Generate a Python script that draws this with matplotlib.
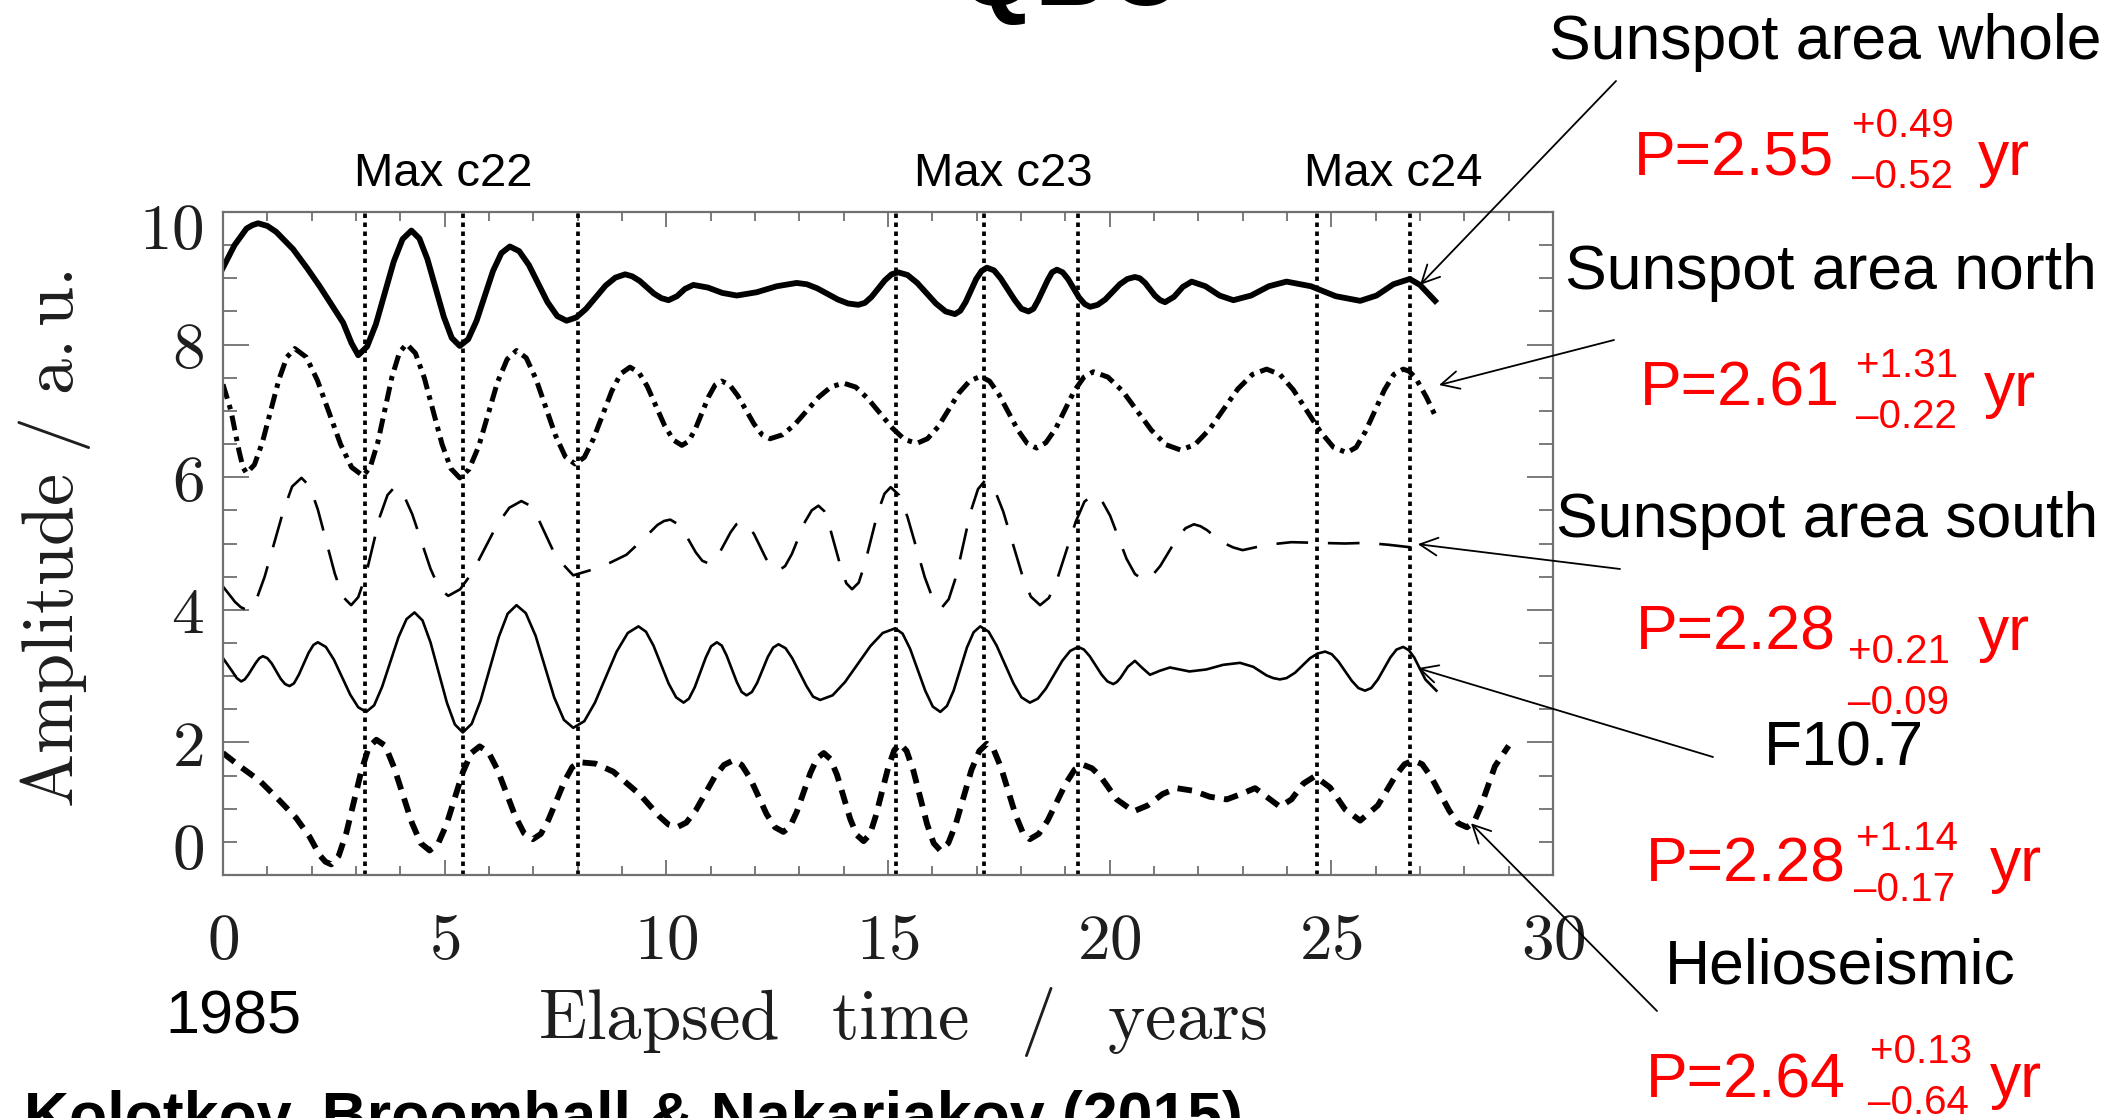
import matplotlib
matplotlib.use("Agg")
import matplotlib.pyplot as plt
import matplotlib.transforms as mtransforms
from matplotlib.ticker import MultipleLocator

plt.rcParams['mathtext.fontset'] = 'cm'
plt.rcParams['font.family'] = ['Liberation Sans', 'DejaVu Sans']

W, H = 2117, 1118

# -----------------------------
# Curves as (elapsed years since 1985, amplitude / a.u.)
# -----------------------------

whole_pts = [
    (0, 9.16), (0.26, 9.5), (0.53, 9.75), (0.66, 9.8), (0.79, 9.83), (1.0, 9.79), (1.2, 9.7),
    (1.58, 9.44), (1.9, 9.15), (2.18, 8.88), (2.45, 8.6), (2.71, 8.33), (2.9, 8.02),
    (3.05, 7.84), (3.25, 7.97), (3.45, 8.31), (3.85, 9.25), (4.05, 9.59), (4.25, 9.72),
    (4.43, 9.6), (4.61, 9.29), (4.98, 8.42), (5.16, 8.1), (5.34, 7.98), (5.53, 8.08),
    (5.72, 8.36), (6.09, 9.11), (6.28, 9.38), (6.47, 9.48), (6.68, 9.41), (6.9, 9.2),
    (7.32, 8.64), (7.54, 8.43), (7.75, 8.36), (7.97, 8.41), (8.19, 8.54), (8.63, 8.89),
    (8.85, 9.01), (9.07, 9.06), (9.23, 9.03), (9.4, 8.96), (9.72, 8.77), (9.89, 8.70),
    (10.05, 8.67), (10.24, 8.73), (10.42, 8.84), (10.61, 8.90), (10.94, 8.86), (11.26, 8.78),
    (11.59, 8.74), (12.04, 8.79), (12.49, 8.88), (12.94, 8.93), (13.17, 8.91), (13.4, 8.85),
    (13.87, 8.68), (14.1, 8.62), (14.33, 8.60), (14.48, 8.63), (14.63, 8.72), (14.93, 8.97),
    (15.08, 9.06), (15.23, 9.09), (15.44, 9.05), (15.66, 8.93), (16.08, 8.62), (16.3, 8.5),
    (16.51, 8.46), (16.63, 8.51), (16.75, 8.64), (16.99, 8.99), (17.11, 9.11), (17.23, 9.16),
    (17.39, 9.12), (17.54, 9.0), (17.86, 8.67), (18.01, 8.54), (18.17, 8.50), (18.28, 8.54),
    (18.38, 8.66), (18.6, 8.97), (18.7, 9.09), (18.81, 9.13), (18.94, 9.09), (19.06, 8.99),
    (19.31, 8.71), (19.44, 8.61), (19.56, 8.57), (19.73, 8.6), (19.9, 8.68), (20.23, 8.91),
    (20.4, 8.99), (20.57, 9.02), (20.68, 9.0), (20.8, 8.93), (21.02, 8.74), (21.14, 8.67),
    (21.25, 8.64), (21.45, 8.72), (21.65, 8.87), (21.85, 8.95), (22.16, 8.88), (22.48, 8.74),
    (22.79, 8.67), (23.19, 8.74), (23.59, 8.88), (23.99, 8.95), (24.54, 8.88), (25.1, 8.73),
    (25.65, 8.66), (26.02, 8.74), (26.4, 8.91), (26.77, 8.99), (27.0, 8.9), (27.17, 8.78),
    (27.34, 8.66),
]

north_pts = [
    (0, 7.4), (0.18, 7.0), (0.36, 6.4), (0.45, 6.15), (0.53, 6.06), (0.71, 6.19), (0.89, 6.53),
    (1.26, 7.47), (1.44, 7.81), (1.62, 7.94), (1.88, 7.81), (2.13, 7.46), (2.65, 6.5),
    (2.9, 6.15), (3.16, 6.02), (3.32, 6.15), (3.49, 6.52), (3.81, 7.51), (3.98, 7.88),
    (4.14, 8.01), (4.34, 7.87), (4.54, 7.5), (4.94, 6.5), (5.14, 6.13), (5.34, 5.99),
    (5.55, 6.12), (5.77, 6.47), (6.19, 7.43), (6.41, 7.78), (6.62, 7.91), (6.84, 7.8),
    (7.06, 7.48), (7.5, 6.63), (7.72, 6.31), (7.94, 6.20), (8.15, 6.3), (8.35, 6.57),
    (8.77, 7.3), (8.97, 7.56), (9.18, 7.66), (9.38, 7.58), (9.57, 7.37), (9.96, 6.78),
    (10.16, 6.56), (10.35, 6.48), (10.5, 6.54), (10.65, 6.72), (10.95, 7.21), (11.1, 7.39),
    (11.25, 7.45), (11.43, 7.39), (11.61, 7.23), (11.98, 6.8), (12.16, 6.64), (12.34, 6.58),
    (12.62, 6.64), (12.89, 6.79), (13.44, 7.21), (13.71, 7.36), (13.99, 7.42), (14.27, 7.36),
    (14.54, 7.19), (15.1, 6.74), (15.37, 6.57), (15.65, 6.51), (15.89, 6.58), (16.13, 6.76),
    (16.6, 7.27), (16.84, 7.45), (17.08, 7.52), (17.29, 7.45), (17.5, 7.25), (17.93, 6.71),
    (18.14, 6.51), (18.35, 6.44), (18.56, 6.52), (18.78, 6.73), (19.2, 7.3), (19.42, 7.51),
    (19.63, 7.59), (19.96, 7.51), (20.29, 7.3), (20.94, 6.71), (21.27, 6.49), (21.6, 6.41),
    (21.92, 6.49), (22.25, 6.72), (22.89, 7.33), (23.22, 7.55), (23.54, 7.63), (23.84, 7.55),
    (24.14, 7.32), (24.75, 6.69), (25.05, 6.45), (25.35, 6.37), (25.56, 6.45), (25.77, 6.69),
    (26.2, 7.32), (26.41, 7.55), (26.62, 7.63), (26.75, 7.6), (26.9, 7.5), (27.15, 7.2),
    (27.37, 6.89),
]

south_pts = [
    (0, 4.35), (0.27, 4.12), (0.4, 4.04), (0.53, 4.0), (0.74, 4.13), (0.94, 4.5), (1.36, 5.49),
    (1.56, 5.86), (1.77, 5.99), (1.96, 5.86), (2.14, 5.51), (2.52, 4.55), (2.7, 4.2),
    (2.89, 4.07), (3.05, 4.19), (3.22, 4.52), (3.54, 5.41), (3.71, 5.73), (3.87, 5.85),
    (4.07, 5.74), (4.27, 5.44), (4.68, 4.62), (4.88, 4.32), (5.08, 4.21), (5.35, 4.31),
    (5.63, 4.57), (6.18, 5.28), (6.46, 5.54), (6.73, 5.64), (6.93, 5.57), (7.12, 5.36),
    (7.51, 4.8), (7.9, 4.52), (8.3, 4.6), (8.7, 4.7), (9.1, 4.83), (9.5, 5.08), (9.8, 5.28),
    (9.95, 5.34), (10.09, 5.36), (10.24, 5.3), (10.38, 5.2), (10.66, 4.87), (10.81, 4.74),
    (10.95, 4.70), (11.08, 4.74), (11.2, 4.86), (11.45, 5.17), (11.58, 5.29), (11.7, 5.32),
    (11.84, 5.28), (11.98, 5.14), (12.25, 4.77), (12.39, 4.64), (12.53, 4.59), (12.68, 4.66),
    (12.83, 4.84), (13.13, 5.33), (13.28, 5.5), (13.43, 5.57), (13.56, 5.49), (13.68, 5.26),
    (13.94, 4.63), (14.06, 4.4), (14.19, 4.31), (14.34, 4.41), (14.48, 4.7), (14.77, 5.47),
    (14.92, 5.75), (15.06, 5.85), (15.25, 5.73), (15.44, 5.4), (15.83, 4.49), (16.02, 4.15),
    (16.21, 4.03), (16.37, 4.16), (16.54, 4.51), (16.86, 5.47), (17.03, 5.82), (17.19, 5.95),
    (17.4, 5.82), (17.6, 5.48), (18.02, 4.54), (18.22, 4.2), (18.43, 4.07), (18.63, 4.18),
    (18.83, 4.49), (19.23, 5.32), (19.43, 5.63), (19.63, 5.74), (19.82, 5.65), (20.01, 5.42),
    (20.38, 4.77), (20.57, 4.54), (20.76, 4.45), (20.95, 4.51), (21.14, 4.66), (21.52, 5.08),
    (21.71, 5.23), (21.9, 5.29), (22.05, 5.26), (22.2, 5.2), (22.5, 5.03), (22.79, 4.94),
    (23.0, 4.9), (23.54, 4.98), (24.1, 5.02), (24.67, 5.01), (25.3, 5.0), (25.8, 5.01),
    (26.3, 4.98), (26.82, 4.94),
]

f107_pts = [
    (0, 3.27), (0.2, 3.08), (0.31, 2.97), (0.41, 2.92), (0.49, 2.95), (0.57, 3.02), (0.74, 3.2),
    (0.82, 3.27), (0.9, 3.30), (1.0, 3.27), (1.1, 3.19), (1.3, 2.96), (1.4, 2.88), (1.5, 2.85),
    (1.6, 2.89), (1.71, 3.02), (1.93, 3.35), (2.04, 3.47), (2.14, 3.51), (2.32, 3.44),
    (2.5, 3.25), (2.87, 2.72), (3.05, 2.53), (3.23, 2.46), (3.41, 2.56), (3.59, 2.84),
    (3.96, 3.59), (4.14, 3.86), (4.32, 3.96), (4.5, 3.84), (4.68, 3.51), (5.05, 2.6),
    (5.23, 2.27), (5.41, 2.15), (5.61, 2.28), (5.81, 2.63), (6.22, 3.59), (6.42, 3.94),
    (6.62, 4.07), (6.83, 3.95), (7.05, 3.61), (7.47, 2.68), (7.69, 2.34), (7.9, 2.22),
    (8.15, 2.32), (8.39, 2.6), (8.88, 3.37), (9.13, 3.65), (9.37, 3.75), (9.54, 3.67),
    (9.71, 3.46), (10.05, 2.89), (10.22, 2.68), (10.39, 2.60), (10.51, 2.66), (10.64, 2.83),
    (10.89, 3.28), (11.01, 3.45), (11.14, 3.51), (11.25, 3.46), (11.36, 3.31), (11.59, 2.91),
    (11.7, 2.76), (11.81, 2.71), (11.93, 2.76), (12.05, 2.9), (12.29, 3.29), (12.41, 3.43),
    (12.53, 3.48), (12.69, 3.42), (12.84, 3.27), (13.16, 2.85), (13.31, 2.69), (13.47, 2.64),
    (13.75, 2.71), (14.03, 2.91), (14.6, 3.45), (14.88, 3.65), (15.16, 3.72), (15.33, 3.64),
    (15.5, 3.41), (15.84, 2.78), (16.01, 2.54), (16.18, 2.46), (16.33, 2.55), (16.48, 2.78),
    (16.78, 3.43), (16.93, 3.66), (17.08, 3.75), (17.27, 3.67), (17.45, 3.46), (17.83, 2.89),
    (18.01, 2.68), (18.2, 2.60), (18.38, 2.66), (18.56, 2.81), (18.93, 3.23), (19.11, 3.38),
    (19.29, 3.44), (19.42, 3.4), (19.55, 3.3), (19.82, 3.02), (19.95, 2.92), (20.08, 2.88),
    (20.16, 2.91), (20.24, 2.97), (20.41, 3.14), (20.57, 3.23), (20.74, 3.12), (20.91, 3.02),
    (21.13, 3.08), (21.36, 3.13), (21.58, 3.1), (21.8, 3.07), (22.18, 3.1), (22.56, 3.17),
    (22.94, 3.20), (23.24, 3.14), (23.54, 3.01), (23.69, 2.97), (23.84, 2.95), (23.99, 2.97),
    (24.18, 3.05), (24.52, 3.27), (24.69, 3.34), (24.86, 3.37), (25.01, 3.33), (25.16, 3.22),
    (25.46, 2.93), (25.61, 2.82), (25.76, 2.78), (25.9, 2.82), (26.05, 2.95), (26.33, 3.28),
    (26.47, 3.4), (26.62, 3.44), (26.75, 3.39), (26.87, 3.28), (27.12, 2.95), (27.37, 2.78),
]

helio_pts = [
    (0, 1.84), (0.4, 1.63), (0.83, 1.42), (1.25, 1.14), (1.65, 0.86), (1.95, 0.58),
    (2.18, 0.30), (2.31, 0.2), (2.44, 0.16), (2.61, 0.29), (2.78, 0.63), (3.12, 1.57),
    (3.29, 1.93), (3.46, 2.04), (3.66, 1.95), (3.86, 1.62), (4.26, 0.79), (4.46, 0.48),
    (4.66, 0.37), (4.85, 0.47), (5.04, 0.76), (5.41, 1.55), (5.6, 1.84), (5.79, 1.94),
    (5.99, 1.85), (6.19, 1.59), (6.59, 0.89), (6.79, 0.63), (6.99, 0.54), (7.17, 0.62),
    (7.34, 0.83), (7.7, 1.41), (7.88, 1.63), (8.05, 1.70), (8.4, 1.68), (8.8, 1.56),
    (9.41, 1.21), (9.85, 0.88), (10.05, 0.76), (10.24, 0.72), (10.45, 0.79), (10.66, 0.97),
    (11.09, 1.48), (11.3, 1.66), (11.51, 1.73), (11.7, 1.66), (11.89, 1.46), (12.26, 0.92),
    (12.45, 0.72), (12.64, 0.65), (12.79, 0.73), (12.94, 0.95), (13.25, 1.54), (13.4, 1.76),
    (13.55, 1.84), (13.7, 1.75), (13.85, 1.51), (14.15, 0.84), (14.3, 0.6), (14.45, 0.51),
    (14.59, 0.61), (14.72, 0.88), (15.0, 1.61), (15.14, 1.88), (15.27, 1.98), (15.42, 1.87),
    (15.57, 1.58), (15.88, 0.77), (16.03, 0.48), (16.18, 0.37), (16.36, 0.48), (16.53, 0.77),
    (16.88, 1.58), (17.06, 1.87), (17.23, 1.98), (17.39, 1.88), (17.55, 1.62), (17.88, 0.9),
    (18.04, 0.64), (18.2, 0.54), (18.4, 0.62), (18.6, 0.82), (19.01, 1.38), (19.21, 1.59),
    (19.41, 1.66), (19.6, 1.61), (19.79, 1.49), (20.16, 1.14), (20.54, 0.96), (20.86, 1.05),
    (21.19, 1.22), (21.51, 1.31), (21.89, 1.27), (22.26, 1.18), (22.64, 1.14), (22.96, 1.22),
    (23.28, 1.31), (23.56, 1.17), (23.84, 1.03), (24.1, 1.14), (24.37, 1.38), (24.63, 1.49),
    (24.97, 1.32), (25.31, 0.99), (25.65, 0.82), (26.05, 1.05), (26.45, 1.5), (26.65, 1.67),
    (26.85, 1.73), (27.05, 1.67), (27.25, 1.48), (27.66, 0.97), (27.86, 0.78), (28.06, 0.72),
    (28.22, 0.8), (28.37, 1.03), (28.69, 1.64), (29.0, 1.95),
]

# dotted lines: times of the maxima
max_years = [3.21, 5.41, 8.0, 15.18, 17.17, 19.29, 24.68, 26.77]
max_labels = ["Max c22", "Max c23", "Max c24"]

x_ticks = [0, 5, 10, 15, 20, 25, 30]
y_ticks = [0, 2, 4, 6, 8, 10]

series_names = ["Sunspot area whole", "Sunspot area north", "Sunspot area south",
                "F10.7", "Helioseismic"]
periods = ["2.55", "2.61", "2.28", "2.28", "2.64"]
err_plus = ["+0.49", "+1.31", "+0.21", "+1.14", "+0.13"]
err_minus = ["\u20130.52", "\u20130.22", "\u20130.09", "\u20130.17", "\u20130.64"]
# where each arrow points on its curve
arrow_heads = [(27.0, 8.9), (27.43, 7.39), (26.95, 4.99), (26.95, 3.12), (28.15, 0.78)]


def fig_pos(x, y):
    # image pixels (origin top-left) -> figure fraction
    return x / W, 1 - y / H


def unzip(pts):
    t, a = zip(*sorted(pts))
    return list(t), list(a)


# -----------------------------
# Plot
# -----------------------------

fig = plt.figure(figsize=(W / 100, H / 100), dpi=100)
ax = fig.add_axes([223 / W, 1 - 875 / H, 1330 / W, 663 / H])

ax.plot(*unzip(whole_pts), color="black", lw=4.2, solid_joinstyle="round")
ax.plot(*unzip(north_pts), color="black", lw=3.6, linestyle=(0, (3.0, 1.3, 0.9, 1.3)))
ax.plot(*unzip(south_pts), color="black", lw=1.9, linestyle=(0, (12, 7.5)))
ax.plot(*unzip(f107_pts), color="black", lw=1.9, solid_joinstyle="round")
ax.plot(*unzip(helio_pts), color="black", lw=4.2, linestyle=(0, (2.5, 1.6)))

for t in max_years:
    ax.axvline(t, color="black", lw=2.7, linestyle=(0, (1.2, 1.2)))

ax.set_xlim(0, 30)
ax.set_ylim(0, 10)
ax.set_xticks(x_ticks, labels=[rf"${t}$" for t in x_ticks])
ax.set_yticks(y_ticks, labels=[rf"${t}$" for t in y_ticks])
ax.xaxis.set_minor_locator(MultipleLocator(1))
ax.yaxis.set_minor_locator(MultipleLocator(0.5))

ax.tick_params(which="both", direction="in", top=True, right=True,
               color="#707070", labelcolor="#1e1e1e", width=1.3)
ax.tick_params(axis="x", which="major", length=11, pad=27, labelsize=47)
ax.tick_params(axis="x", which="minor", length=6.5)
ax.tick_params(axis="y", which="major", length=19, pad=14, labelsize=47)
ax.tick_params(axis="y", which="minor", length=10)

# the end labels sit inside the frame, as in the original
ylabels = ax.get_yticklabels()
ylabels[0].set_verticalalignment("bottom")
ylabels[0].set_transform(ylabels[0].get_transform()
                         + mtransforms.ScaledTranslation(0, -5 / 72, fig.dpi_scale_trans))
ylabels[-1].set_verticalalignment("top")
ylabels[-1].set_transform(ylabels[-1].get_transform()
                          + mtransforms.ScaledTranslation(0, 7 / 72, fig.dpi_scale_trans))

for spine in ax.spines.values():
    spine.set_color("#707070")
    spine.set_linewidth(1.6)

ax.set_xlabel(r"$\mathrm{Elapsed\ \ \,time\ \ \,/\ \ \,years}$",
              fontsize=51, color="#1e1e1e", va="baseline")
ax.xaxis.set_label_coords(0.511, -0.247)
ax.set_ylabel(r"$\mathrm{Amplitude\ /\ a.u.}$",
              fontsize=52, color="#1e1e1e", va="center")
ax.yaxis.set_label_coords(-0.127, 0.507)

# labels of the solar cycle maxima
for label, x in zip(max_labels, [354, 914, 1304]):
    fig.text(*fig_pos(x, 186), label, fontsize=34, ha="left", va="baseline")

# -----------------------------
# Slide annotations
# -----------------------------

name_pos = [(1549, 59), (1565, 289), (1556, 537), (1764, 766), (1665, 983)]
for name, (x, y) in zip(series_names, name_pos):
    fig.text(*fig_pos(x, y), name, fontsize=45, ha="left", va="baseline")

tails = [(1616, 81), (1614, 340), (1620, 569), (1713, 757), (1657, 1011)]
for head, (x, y) in zip(arrow_heads, tails):
    ax.annotate("", xy=head, xycoords="data",
                xytext=(x, H - y), textcoords="figure pixels",
                arrowprops=dict(arrowstyle="->", color="black", lw=1.3,
                                mutation_scale=32, shrinkA=0, shrinkB=0),
                annotation_clip=False)

# P = period (+err / -err) yr, in red
p_pos = [(1634, 175), (1640, 406), (1636, 650), (1646, 881), (1646, 1097)]
plus_pos = [(1852, 137), (1856, 377), (1848, 663), (1856, 850), (1870, 1063)]
minus_pos = [(1852, 188), (1856, 428), (1848, 714), (1854, 901), (1868, 1114)]
yr_pos = [(1978, 175), (1984, 406), (1978, 650), (1990, 881), (1990, 1097)]
for i in range(5):
    fig.text(*fig_pos(*p_pos[i]), "P=" + periods[i], color="red", fontsize=45,
             ha="left", va="baseline")
    fig.text(*fig_pos(*plus_pos[i]), err_plus[i], color="red", fontsize=29,
             ha="left", va="baseline")
    fig.text(*fig_pos(*minus_pos[i]), err_minus[i], color="red", fontsize=29,
             ha="left", va="baseline")
    fig.text(*fig_pos(*yr_pos[i]), "yr", color="red", fontsize=45,
             ha="left", va="baseline")

fig.text(*fig_pos(165, 1034), "1985", fontsize=44, ha="left", va="baseline")
fig.text(*fig_pos(24, 1136), "Kolotkov, Broomhall & Nakariakov (2015)",
         fontsize=45, fontweight="bold", ha="left", va="baseline")
fig.text(*fig_pos(1072, 5), "QBO", fontsize=72, fontweight="bold",
         ha="center", va="baseline")

fig.savefig("out.png", dpi=100)
